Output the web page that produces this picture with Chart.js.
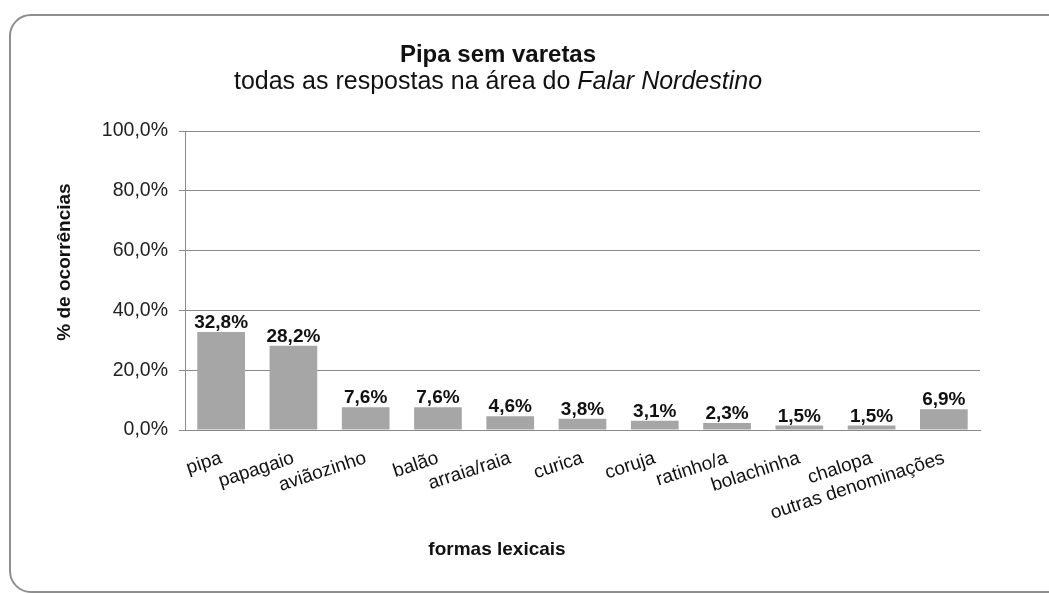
<!DOCTYPE html>
<html>
<head>
<meta charset="utf-8">
<script src="https://cdn.jsdelivr.net/npm/chart.js@4"></script>
<style>
  html, body { margin: 0; padding: 0; background: #fff; overflow: hidden; }
  #wrap { position: relative; width: 1049px; height: 594px; }
  #frame { position: absolute; left: 9px; top: 14px; width: 1070px; height: 575px;
           border: 2px solid #8e8e8e; border-radius: 22px; pointer-events: none; }
  canvas { position: absolute; left: 0; top: 0; }
</style>
</head>
<body>
<div id="wrap">
  <canvas id="chart" width="1049" height="594"></canvas>
  <div id="frame"></div>
</div>
<script>
var categories = ['pipa', 'papagaio', 'aviãozinho', 'balão', 'arraia/raia', 'curica',
                  'coruja', 'ratinho/a', 'bolachinha', 'chalopa', 'outras denominações'];
var percents = [32.8, 28.2, 7.6, 7.6, 4.6, 3.8, 3.1, 2.3, 1.5, 1.5, 6.9];
var yTicks = [0, 20, 40, 60, 80, 100];

var FONT = "'Liberation Sans', Arial, sans-serif";

function fmt(v, d) {
  return v.toFixed(d).replace('.', ',') + '%';
}

// titles + value labels
var decor = {
  id: 'decor',
  afterDatasetsDraw: function (chart) {
    var ctx = chart.ctx;
    var meta = chart.getDatasetMeta(0);
    ctx.save();
    ctx.fillStyle = '#111';
    ctx.font = 'bold 19px ' + FONT;
    ctx.textAlign = 'center';
    ctx.textBaseline = 'alphabetic';
    meta.data.forEach(function (bar, i) {
      ctx.fillText(fmt(percents[i], 1), bar.x, bar.y - 4);
    });
    ctx.restore();
  },
  afterDraw: function (chart) {
    var ctx = chart.ctx;
    ctx.save();
    ctx.fillStyle = '#111';
    ctx.textBaseline = 'alphabetic';
    ctx.textAlign = 'center';
    ctx.font = 'bold 24px ' + FONT;
    ctx.fillText('Pipa sem varetas', 498, 62);

    // subtitle with italic part
    var a = 'todas as respostas na área do ';
    var b = 'Falar Nordestino';
    ctx.font = '25px ' + FONT;
    var wa = ctx.measureText(a).width;
    ctx.font = 'italic 25px ' + FONT;
    var wb = ctx.measureText(b).width;
    var x0 = 498 - (wa + wb) / 2;
    ctx.textAlign = 'left';
    ctx.font = '25px ' + FONT;
    ctx.fillText(a, x0, 89);
    ctx.font = 'italic 25px ' + FONT;
    ctx.fillText(b, x0 + wa, 89);

    // axis titles
    ctx.textAlign = 'center';
    ctx.font = 'bold 19px ' + FONT;
    ctx.fillText('formas lexicais', 497, 555);
    ctx.translate(65, 262);
    ctx.rotate(-Math.PI / 2);
    ctx.textBaseline = 'middle';
    ctx.fillText('% de ocorrências', 0, 0);
    ctx.restore();
  }
};

new Chart(document.getElementById('chart'), {
  type: 'bar',
  data: {
    labels: categories,
    datasets: [{
      data: percents,
      backgroundColor: '#a6a6a6',
      borderWidth: 0,
      barPercentage: 0.66,
      categoryPercentage: 1.0
    }]
  },
  options: {
    responsive: false,
    animation: false,
    layout: { padding: { left: 0, right: 69, top: 131, bottom: 0 } },
    plugins: { legend: { display: false }, tooltip: { enabled: false } },
    scales: {
      x: {
        grid: { display: false },
        border: { display: true, color: '#8a8a8a', width: 1 },
        ticks: {
          color: '#111',
          font: { family: FONT, size: 19 },
          minRotation: 18,
          maxRotation: 18,
          autoSkip: false,
          padding: 9
        },
        afterFit: function (s) { s.height = 594 - 430; }
      },
      y: {
        min: 0,
        max: 100,
        afterBuildTicks: function (s) {
          s.ticks = yTicks.map(function (v) { return { value: v }; });
        },
        grid: { color: '#8a8a8a', lineWidth: 1, tickLength: 6, drawTicks: true },
        border: { display: true, color: '#8a8a8a', width: 1 },
        ticks: {
          color: '#222',
          font: { family: FONT, size: 19.5 },
          padding: 11,
          callback: function (v) { return fmt(v, 1); }
        },
        afterFit: function (s) { s.width = 185; }
      }
    }
  },
  plugins: [decor]
});
</script>
</body>
</html>
